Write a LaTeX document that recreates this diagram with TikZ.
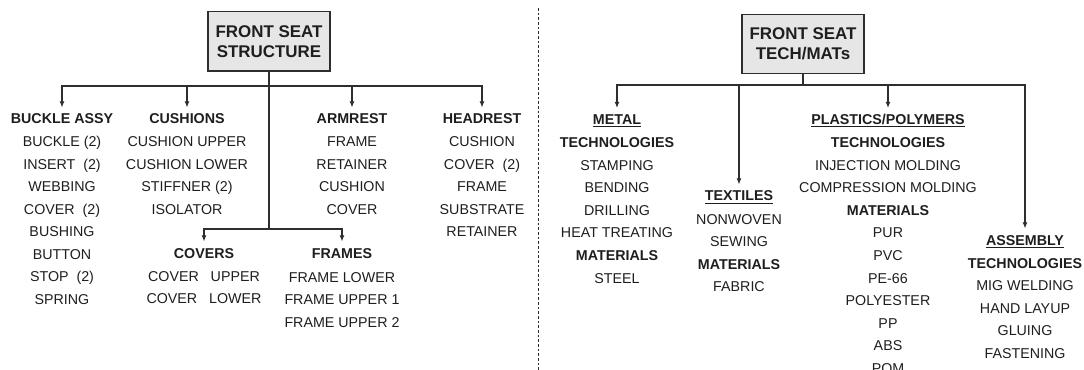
\documentclass[tikz,border=0pt]{standalone}
\usepackage{fontspec}
\setmainfont{Liberation Sans}
\usetikzlibrary{arrows.meta}
\definecolor{ink}{HTML}{1E1E1E}
\definecolor{wire}{HTML}{2E2E2E}
\definecolor{boxfill}{HTML}{E6E6E6}
\begin{document}
\begin{tikzpicture}[x=0.75pt,y=-0.75pt,
  itm/.style={font=\fontsize{10.7pt}{12pt}\selectfont, inner sep=0pt, anchor=base, text=ink},
  hd/.style={font=\fontsize{10.7pt}{12pt}\selectfont\bfseries, inner xsep=0pt, inner ysep=4.5pt,
    text height=7.7pt, text depth=0pt, anchor=base, text=ink},
  topbox/.style={draw=wire, fill=boxfill, line width=1pt, minimum width=91.5pt, minimum height=44.5pt,
    inner sep=0pt, align=center, text=ink, font=\fontsize{12.7pt}{15pt}\selectfont\bfseries},
  ln/.style={draw=wire, line width=0.8pt},
  arr/.style={ln, -{Latex[length=4.5pt,width=3.6pt]}},
  sep/.style={draw=wire, line width=0.7pt, dash pattern=on 2pt off 1.5pt}]
\useasboundingbox (0,0) rectangle (1084,370);

% ---------- left tree ----------
\node[topbox] (lbox) at (269,41.5) {FRONT SEAT\\STRUCTURE};

\node[hd] (bk) at (62,124) {BUCKLE ASSY};
\foreach \t [count=\i] in {BUCKLE (2),INSERT~~(2),WEBBING,COVER~~(2),BUSHING,BUTTON,STOP~~(2),SPRING}
  \node[itm] (bk\i) at (62,{147+22.45*(\i-1)}) {\t};

\node[hd] (cu) at (187,124) {CUSHIONS};
\foreach \t [count=\i] in {CUSHION UPPER,CUSHION LOWER,STIFFNER (2),ISOLATOR}
  \node[itm] (cu\i) at (187,{147+22.45*(\i-1)}) {\t};

\node[hd] (arm) at (352,124) {ARMREST};
\foreach \t [count=\i] in {FRAME,RETAINER,CUSHION,COVER}
  \node[itm] (arm\i) at (352,{147+22.45*(\i-1)}) {\t};

\node[hd] (hr) at (482,124) {HEADREST};
\foreach \t [count=\i] in {CUSHION,COVER~~(2),FRAME,SUBSTRATE,RETAINER}
  \node[itm] (hr\i) at (482,{147+22.45*(\i-1)}) {\t};

\node[hd] (cv) at (204,258) {COVERS};
\foreach \t [count=\i] in {COVER~~~UPPER,COVER~~~LOWER}
  \node[itm] (cv\i) at (204,{281+22.6*(\i-1)}) {\t};

\node[hd] (fr) at (342,258) {FRAMES};
\foreach \t [count=\i] in {FRAME LOWER,FRAME UPPER 1,FRAME UPPER 2}
  \node[itm] (fr\i) at (342,{282+22.8*(\i-1)}) {\t};

\coordinate (lj) at (269,86);
\coordinate (lm) at (269,229);
\draw[ln] (lbox.south) -- (lj);
\draw[arr] (lj) -| (bk.north);
\draw[arr] (lj) -| (cu.north);
\draw[arr] (lj) -| (arm.north);
\draw[arr] (lj) -| (hr.north);
\draw[ln] (lj) -- (lm);
\draw[arr] (lm) -| (cv.north);
\draw[arr] (lm) -| (fr.north);

% ---------- separator ----------
\coordinate (st) at (538,8);
\coordinate (sb) at (538,370);
\draw[sep] (st) -- (sb);

% ---------- right tree ----------
\node[topbox] (rbox) at (803,44) {FRONT SEAT\\TECH/MATs};

\node[hd] (mt) at (617,124.5) {\underline{METAL}};
\foreach \t [count=\i] in {\textbf{TECHNOLOGIES},STAMPING,BENDING,DRILLING,HEAT TREATING,\textbf{MATERIALS},STEEL}
  \node[itm] (mt\i) at (617,{148+22.5*(\i-1)}) {\t};

\node[hd] (tx) at (739,201) {\underline{TEXTILES}};
\foreach \t [count=\i] in {NONWOVEN,SEWING,\textbf{MATERIALS},FABRIC}
  \node[itm] (tx\i) at (739,{224+22.6*(\i-1)}) {\t};

\node[hd] (pl) at (888,124.5) {\underline{PLASTICS/POLYMERS}};
\foreach \t [count=\i] in {\textbf{TECHNOLOGIES},INJECTION MOLDING,COMPRESSION MOLDING,\textbf{MATERIALS},PUR,PVC,PE-66,POLYESTER,PP,ABS,POM}
  \node[itm] (pl\i) at (888,{148+22.5*(\i-1)}) {\t};

\node[hd] (as) at (1025,245) {\underline{ASSEMBLY}};
\foreach \t [count=\i] in {\textbf{TECHNOLOGIES},MIG WELDING,HAND LAYUP,GLUING,FASTENING}
  \node[itm] (as\i) at (1025,{268+22.5*(\i-1)}) {\t};

\coordinate (rj) at (803,85);
\draw[ln] (rbox.south) -- (rj);
\draw[arr] (rj) -| (mt.north);
\draw[arr] (rj) -| (tx.north);
\draw[arr] (rj) -| (pl.north);
\draw[arr] (rj) -| (as.north);
\end{tikzpicture}
\end{document}
